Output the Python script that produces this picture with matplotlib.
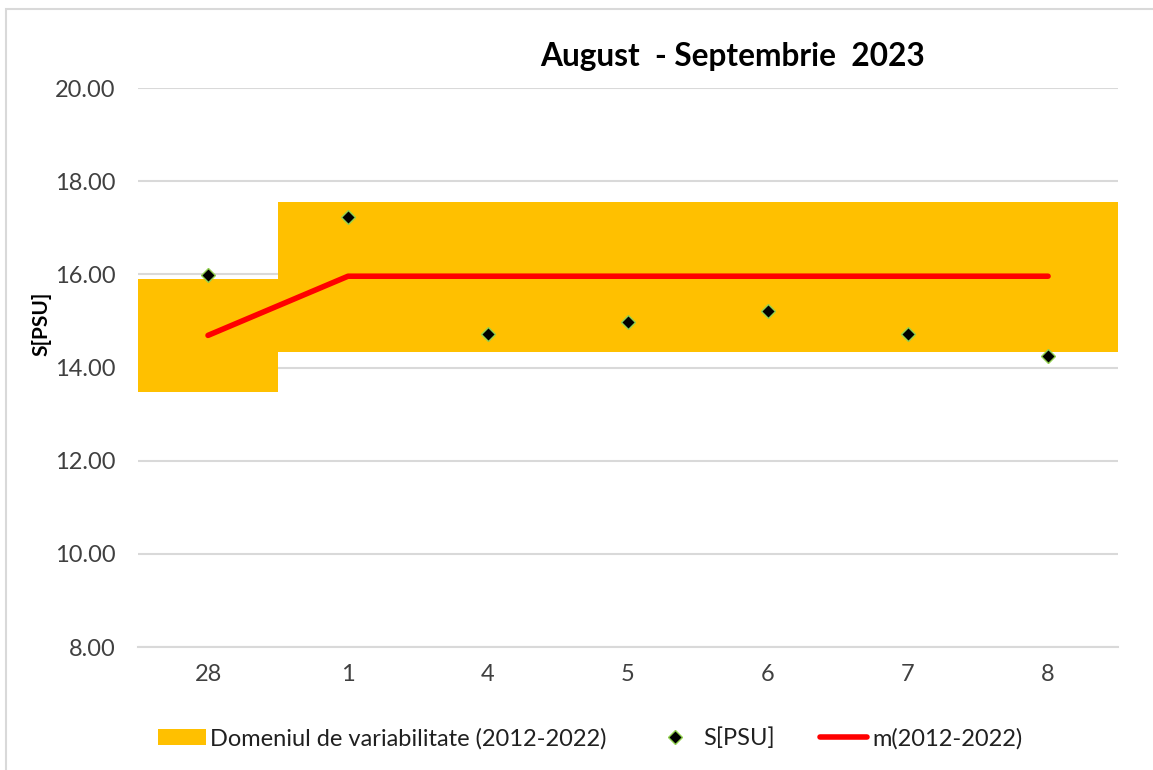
import matplotlib.pyplot as plt
from matplotlib.patches import Rectangle
import numpy as np

plt.rcParams['font.family'] = ['Lato', 'DejaVu Sans']

days = ["28", "1", "4", "5", "6", "7", "8"]
range_low = [13.48, 14.34, 14.34, 14.34, 14.34, 14.34, 14.34]
range_high = [15.90, 17.56, 17.56, 17.56, 17.56, 17.56, 17.56]
salinity = [15.99, 17.24, 14.72, 14.98, 15.22, 14.72, 14.24]
mean_2012_2022 = [14.69, 15.96, 15.96, 15.96, 15.96, 15.96, 15.96]

x = np.arange(len(days))
low = np.array(range_low)
high = np.array(range_high)

fig = plt.figure(figsize=(11.53, 7.7), dpi=100)
ax = fig.add_axes([0.1197, 0.1597, 0.85, 0.7260])

# figure frame like the excel chart border
fig.patches.append(Rectangle((0.0055, -0.01), 1.1, 0.998, transform=fig.transFigure,
                             fill=False, edgecolor="#d9d9d9", lw=1.5))

b = ax.bar(x, high - low, bottom=low, width=1.0, color="#ffc000", zorder=2,
           label="Domeniul de variabilitate (2012-2022)")
p, = ax.plot(x, salinity, linestyle="none", marker="D", markersize=7,
             markerfacecolor="black", markeredgecolor="#92d050", markeredgewidth=1,
             zorder=4, label="S[PSU]")
m, = ax.plot(x, mean_2012_2022, color="red", lw=4, solid_capstyle="round",
             zorder=3, label="m(2012-2022)")

ax.set_xlim(-0.5, len(days) - 0.5)
ax.set_ylim(8, 20)
ax.set_yticks(np.arange(8, 20.1, 2))
ax.set_yticklabels(["{:.2f}".format(v) for v in np.arange(8, 20.1, 2)])
ax.set_xticks(x)
ax.set_xticklabels(days)
ax.yaxis.grid(True, color="#d9d9d9", lw=1.5, zorder=0)
ax.set_axisbelow(True)
for s in ["top", "right", "left"]:
    ax.spines[s].set_visible(False)
ax.spines["bottom"].set_color("#d9d9d9")
ax.spines["bottom"].set_linewidth(1.5)
ax.tick_params(axis="both", length=0, labelsize=17, colors="#404040")
ax.tick_params(axis="y", pad=16)
ax.tick_params(axis="x", pad=12)

fig.text(0.635, 0.926, "August  - Septembrie  2023", ha="center", va="center",
         fontsize=22.8, fontweight="bold", color="black")
fig.text(0.036, 0.58, "S[PSU]", rotation=90, ha="center", va="center",
         fontsize=15, fontweight="bold", color="black")

leg = fig.legend([b, p, m], [b.get_label(), p.get_label(), m.get_label()],
                 loc="center", bbox_to_anchor=(0.512, 0.041), ncol=3, frameon=False,
                 fontsize=17, handlelength=2.0, handletextpad=0.2, columnspacing=1.9)
for t in leg.get_texts():
    t.set_color("#202020")

fig.savefig("out.png", dpi=100)
